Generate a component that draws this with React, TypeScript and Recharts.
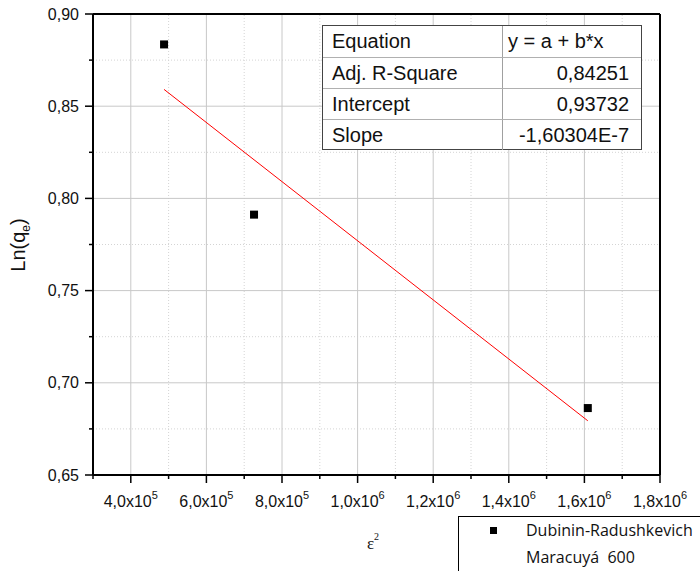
import React from 'react';
import { ComposedChart, XAxis, YAxis, Scatter, ReferenceLine } from 'recharts';

const points = [
  { x: 488000, y: 0.8835 },
  { x: 726000, y: 0.7912 },
  { x: 1609000, y: 0.6863 },
];
const fitLine = [
  { x: 488000, y: 0.8591 },
  { x: 1609000, y: 0.6794 },
];
const xMajorTicks = [400000, 600000, 800000, 1000000, 1200000, 1400000, 1600000, 1800000];
const xMinorTicks = [300000, 500000, 700000, 900000, 1100000, 1300000, 1500000, 1700000];
const xTickMantissas = ['4,0', '6,0', '8,0', '1,0', '1,2', '1,4', '1,6', '1,8'];
const xTickExponents = ['5', '5', '5', '6', '6', '6', '6', '6'];
const yMajorTicks = [0.65, 0.7, 0.75, 0.8, 0.85, 0.9];
const yMinorTicks = [0.675, 0.725, 0.775, 0.825, 0.875];
const yTickLabels = ['0,65', '0,70', '0,75', '0,80', '0,85', '0,90'];
const tableRows = [
  ['Equation', 'y = a + b*x'],
  ['Adj. R-Square', '0,84251'],
  ['Intercept', '0,93732'],
  ['Slope', '-1,60304E-7'],
];
const legendLines = ['Dubinin-Radushkevich', 'Maracuyá  600'];

const X_DOMAIN = [300000, 1800000];
const Y_DOMAIN = [0.65, 0.9];

const allX = [...xMajorTicks, ...xMinorTicks].sort((a, b) => a - b);
const allY = [...yMajorTicks, ...yMinorTicks].sort((a, b) => a - b);

const SANS = '"Liberation Sans", Arial, sans-serif';

const XTick = (props: any) => {
  const { x, y, payload } = props;
  const v = payload.value;
  const idx = xMajorTicks.indexOf(v);
  const major = idx >= 0;
  return (
    <g>
      <line x1={x} x2={x} y1={y} y2={y + (major ? 8 : 4)} stroke="#000" strokeWidth={1.5} />
      {major && (
        <text x={x} y={y + 32} textAnchor="middle" fontFamily={SANS} fontSize={16} fill="#111">
          <tspan>{xTickMantissas[idx]}x10</tspan>
          <tspan dy={-8} fontSize={11}>{xTickExponents[idx]}</tspan>
        </text>
      )}
    </g>
  );
};

const YTick = (props: any) => {
  const { x, y, payload } = props;
  const v = payload.value;
  const idx = yMajorTicks.indexOf(v);
  const major = idx >= 0;
  return (
    <g>
      <line x1={x - (major ? 8 : 4)} x2={x} y1={y} y2={y} stroke="#000" strokeWidth={1.5} />
      {major && (
        <text x={x - 14} y={y} dy="0.35em" textAnchor="end" fontFamily={SANS} fontSize={16} fill="#111">
          {yTickLabels[idx]}
        </text>
      )}
    </g>
  );
};

const Square = (props: any) => {
  const { cx, cy } = props;
  return <rect x={cx - 4} y={cy - 4} width={8} height={8} fill="#000" />;
};

export default function App() {
  return (
    <div style={{ position: 'absolute', left: 0, top: 0, width: 700, height: 571, background: '#fff', overflow: 'hidden' }}>
      <ComposedChart
        width={700}
        height={571}
        margin={{ top: 14, right: 40, bottom: 56, left: 0 }}
      >
        <XAxis
          type="number"
          dataKey="x"
          domain={X_DOMAIN}
          ticks={allX}
          interval={0}
          allowDataOverflow
          height={40}
          tickSize={0}
          tickMargin={0}
          tickLine={false}
          tick={<XTick />}
          axisLine={{ stroke: '#000', strokeWidth: 2 }}
        />
        <YAxis
          type="number"
          dataKey="y"
          domain={Y_DOMAIN}
          ticks={allY}
          interval={0}
          allowDataOverflow
          width={93}
          tickSize={0}
          tickMargin={0}
          tickLine={false}
          tick={<YTick />}
          axisLine={{ stroke: '#000', strokeWidth: 2 }}
        />
        {xMinorTicks.map((v) => (
          <ReferenceLine key={'xm' + v} x={v} stroke="#d4d4d4" strokeDasharray="1 2" strokeWidth={1} />
        ))}
        {yMinorTicks.map((v) => (
          <ReferenceLine key={'ym' + v} y={v} stroke="#d4d4d4" strokeDasharray="1 2" strokeWidth={1} />
        ))}
        {xMajorTicks.slice(0, -1).map((v) => (
          <ReferenceLine key={'xM' + v} x={v} stroke="#c8c8c8" strokeWidth={1} />
        ))}
        {yMajorTicks.slice(1, -1).map((v) => (
          <ReferenceLine key={'yM' + v} y={v} stroke="#c8c8c8" strokeWidth={1} />
        ))}
        <ReferenceLine y={Y_DOMAIN[1]} stroke="#000" strokeWidth={2} />
        <ReferenceLine x={X_DOMAIN[1]} stroke="#000" strokeWidth={2} />
        <ReferenceLine
          segment={[fitLine[0], fitLine[1]]}
          stroke="#ff0000"
          strokeWidth={1}
        />
        <Scatter data={points} dataKey="y" fill="#000" shape={<Square />} isAnimationActive={false} />
      </ComposedChart>

      <svg width={700} height={571} style={{ position: 'absolute', left: 0, top: 0, pointerEvents: 'none' }}>
        <text transform="translate(25,245) rotate(-90)" textAnchor="middle" fontFamily={SANS} fontSize={20} fill="#111">
          <tspan>Ln(q</tspan>
          <tspan dy={5} fontSize={12}>e</tspan>
          <tspan dy={-5}>)</tspan>
        </text>
        <text x={373} y={549} textAnchor="middle" fontFamily='"Liberation Serif", serif' fontSize={17} fill="#111">
          <tspan>ε</tspan>
          <tspan dy={-9} fontSize={10}>2</tspan>
        </text>
      </svg>

      <div
        style={{
          position: 'absolute',
          left: 322,
          top: 25,
          width: 320,
          height: 125,
          boxSizing: 'border-box',
          border: '1px solid #444',
          background: '#fff',
          fontFamily: SANS,
          fontSize: 20,
          color: '#111',
        }}
      >
        {tableRows.map((r, i) => (
          <div
            key={i}
            style={{
              display: 'flex',
              height: 31,
              boxSizing: 'border-box',
              borderTop: i === 0 ? 'none' : '1px solid #b0b0b0',
            }}
          >
            <div
              style={{
                width: 180,
                boxSizing: 'border-box',
                borderRight: '1px solid #a0a0a0',
                paddingLeft: 9,
                lineHeight: '30px',
                whiteSpace: 'nowrap',
              }}
            >
              {r[0]}
            </div>
            <div
              style={{
                flex: 1,
                boxSizing: 'border-box',
                paddingLeft: 5,
                paddingRight: 12,
                lineHeight: '30px',
                textAlign: i === 0 ? 'left' : 'right',
                whiteSpace: 'nowrap',
              }}
            >
              {r[1]}
            </div>
          </div>
        ))}
      </div>

      <div
        style={{
          position: 'absolute',
          left: 458,
          top: 516,
          width: 260,
          height: 70,
          boxSizing: 'border-box',
          border: '1px solid #000',
          background: '#fff',
          fontFamily: '"Open Sans", sans-serif',
          fontSize: 16,
          color: '#111',
        }}
      >
        <div style={{ position: 'absolute', left: 31, top: 10, width: 7, height: 7, background: '#000' }} />
        <div style={{ position: 'absolute', left: 67, top: 2, lineHeight: '22px', whiteSpace: 'pre' }}>{legendLines[0]}</div>
        <div style={{ position: 'absolute', left: 67, top: 29, lineHeight: '22px', whiteSpace: 'pre' }}>{legendLines[1]}</div>
      </div>
    </div>
  );
}
